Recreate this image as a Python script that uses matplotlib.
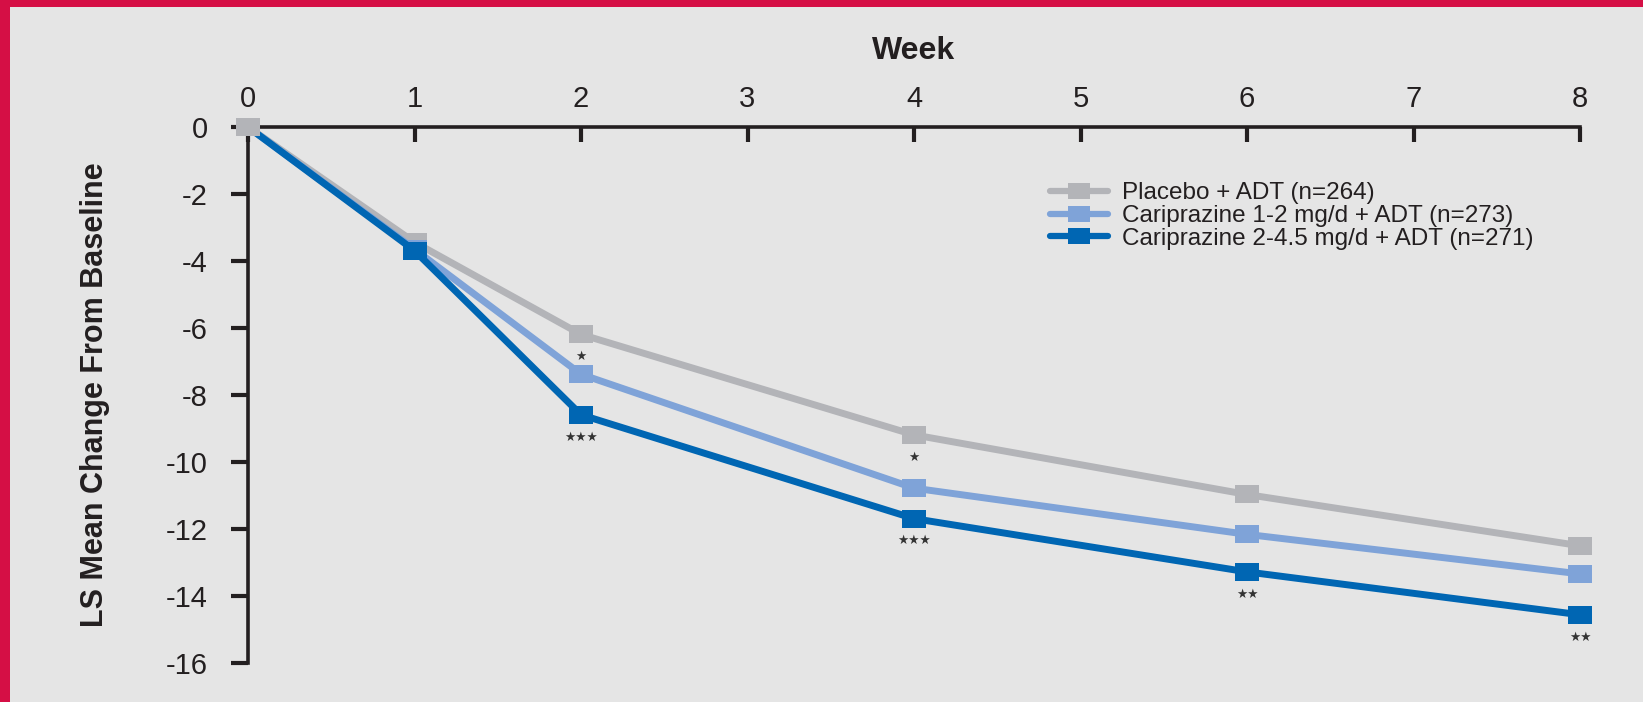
import matplotlib
matplotlib.use("Agg")
import matplotlib.pyplot as plt
from matplotlib.lines import Line2D
from matplotlib.patches import Rectangle

weeks = [0, 1, 2, 4, 6, 8]
placebo = [0, -3.44, -6.19, -9.19, -10.97, -12.50]
cari_low = [0, -3.65, -7.38, -10.78, -12.16, -13.34]
cari_high = [0, -3.69, -8.59, -11.69, -13.28, -14.56]
labels = ["Placebo + ADT (n=264)",
          "Cariprazine 1-2 mg/d + ADT (n=273)",
          "Cariprazine 2-4.5 mg/d + ADT (n=271)"]
colors = ["#B3B4B8", "#7FA3D8", "#0066B3"]

# significance marks: (week, series index the mark sits under, text)
sig_weeks = [2, 2, 4, 4, 6, 8]
sig_series = [0, 2, 0, 2, 2, 2]
sig_text = ["★", "★★★", "★", "★★★", "★★", "★★"]

xticks = [0, 1, 2, 3, 4, 5, 6, 7, 8]
yticks = [0, -2, -4, -6, -8, -10, -12, -14, -16]

W, H = 1643, 702
fig = plt.figure(figsize=(W / 100, H / 100), dpi=100)
fig.patch.set_facecolor("#E5E5E5")
# crimson frame (top and left)
crimson = "#D50F45"
fig.patches.append(Rectangle((0, 1 - 7 / H), 1, 7 / H, transform=fig.transFigure,
                             facecolor=crimson, edgecolor="none", zorder=0))
fig.patches.append(Rectangle((0, 0), 10 / W, 1, transform=fig.transFigure,
                             facecolor=crimson, edgecolor="none", zorder=0))

left, right, top, bottom = 248, 1580, 127, 663
ax = fig.add_axes([left / W, 1 - bottom / H, (right - left) / W, (bottom - top) / H])
ax.set_facecolor("none")
ax.set_xlim(0, 8)
ax.set_ylim(-16, 0)

font = ["Liberation Sans", "DejaVu Sans"]
ink = "#231F20"

for s in ["right", "bottom"]:
    ax.spines[s].set_visible(False)
for s in ["left", "top"]:
    ax.spines[s].set_linewidth(2.6)
    ax.spines[s].set_color(ink)

ax.xaxis.tick_top()
ax.xaxis.set_label_position("top")
ax.set_xticks(xticks)
ax.set_xticklabels([str(t) for t in xticks], family=font, fontsize=21, color=ink)
ax.tick_params(axis="x", direction="in", length=11, width=3, color=ink, pad=10)
ax.set_yticks(yticks)
ax.set_yticklabels([str(t) for t in yticks], family=font, fontsize=21, color=ink)
ax.tick_params(axis="y", direction="out", length=12, width=3, color=ink, pad=17)

ax.set_xlabel("Week", family=font, fontsize=23, fontweight="bold", color=ink, labelpad=19)
ax.set_ylabel("LS Mean Change From Baseline",
              family=["Liberation Sans Narrow", "Liberation Sans"],
              fontsize=22, fontweight="bold", color=ink, labelpad=40)

rect_marker = [(-1.35, -1), (1.35, -1), (1.35, 1), (-1.35, 1), (-1.35, -1)]
series = [placebo, cari_low, cari_high]
for vals, c, lab in zip(series, colors, labels):
    ax.plot(weeks, vals, color=c, lw=5, marker=rect_marker, markersize=17,
            markeredgewidth=0, label=lab, clip_on=False, zorder=3)
# baseline point of placebo shown on top
ax.plot(weeks[0], placebo[0], color=colors[0], marker=rect_marker, markersize=17,
        markeredgewidth=0, ls="none", clip_on=False, zorder=4)

for wk, si, txt in zip(sig_weeks, sig_series, sig_text):
    idx = weeks.index(wk)
    ax.annotate(txt, (wk, series[si][idx]), xytext=(0, -16), textcoords="offset points",
                ha="center", va="center", fontsize=9, color="#333333",
                family=["DejaVu Sans"])

handles = [Line2D([0], [0], color=c, lw=4.5, marker=rect_marker, markersize=16,
                  markeredgewidth=0, solid_capstyle="round") for c in colors]
leg = fig.legend(handles, labels, loc="center left",
                 bbox_to_anchor=(1050 / W, 1 - 216 / H),
                 frameon=False, handlelength=2.4, handletextpad=0.58,
                 labelspacing=0.04, borderpad=0, borderaxespad=0,
                 prop={"family": font, "size": 17.5})
for t in leg.get_texts():
    t.set_color(ink)

fig.savefig("out.png", dpi=100, facecolor=fig.get_facecolor())
